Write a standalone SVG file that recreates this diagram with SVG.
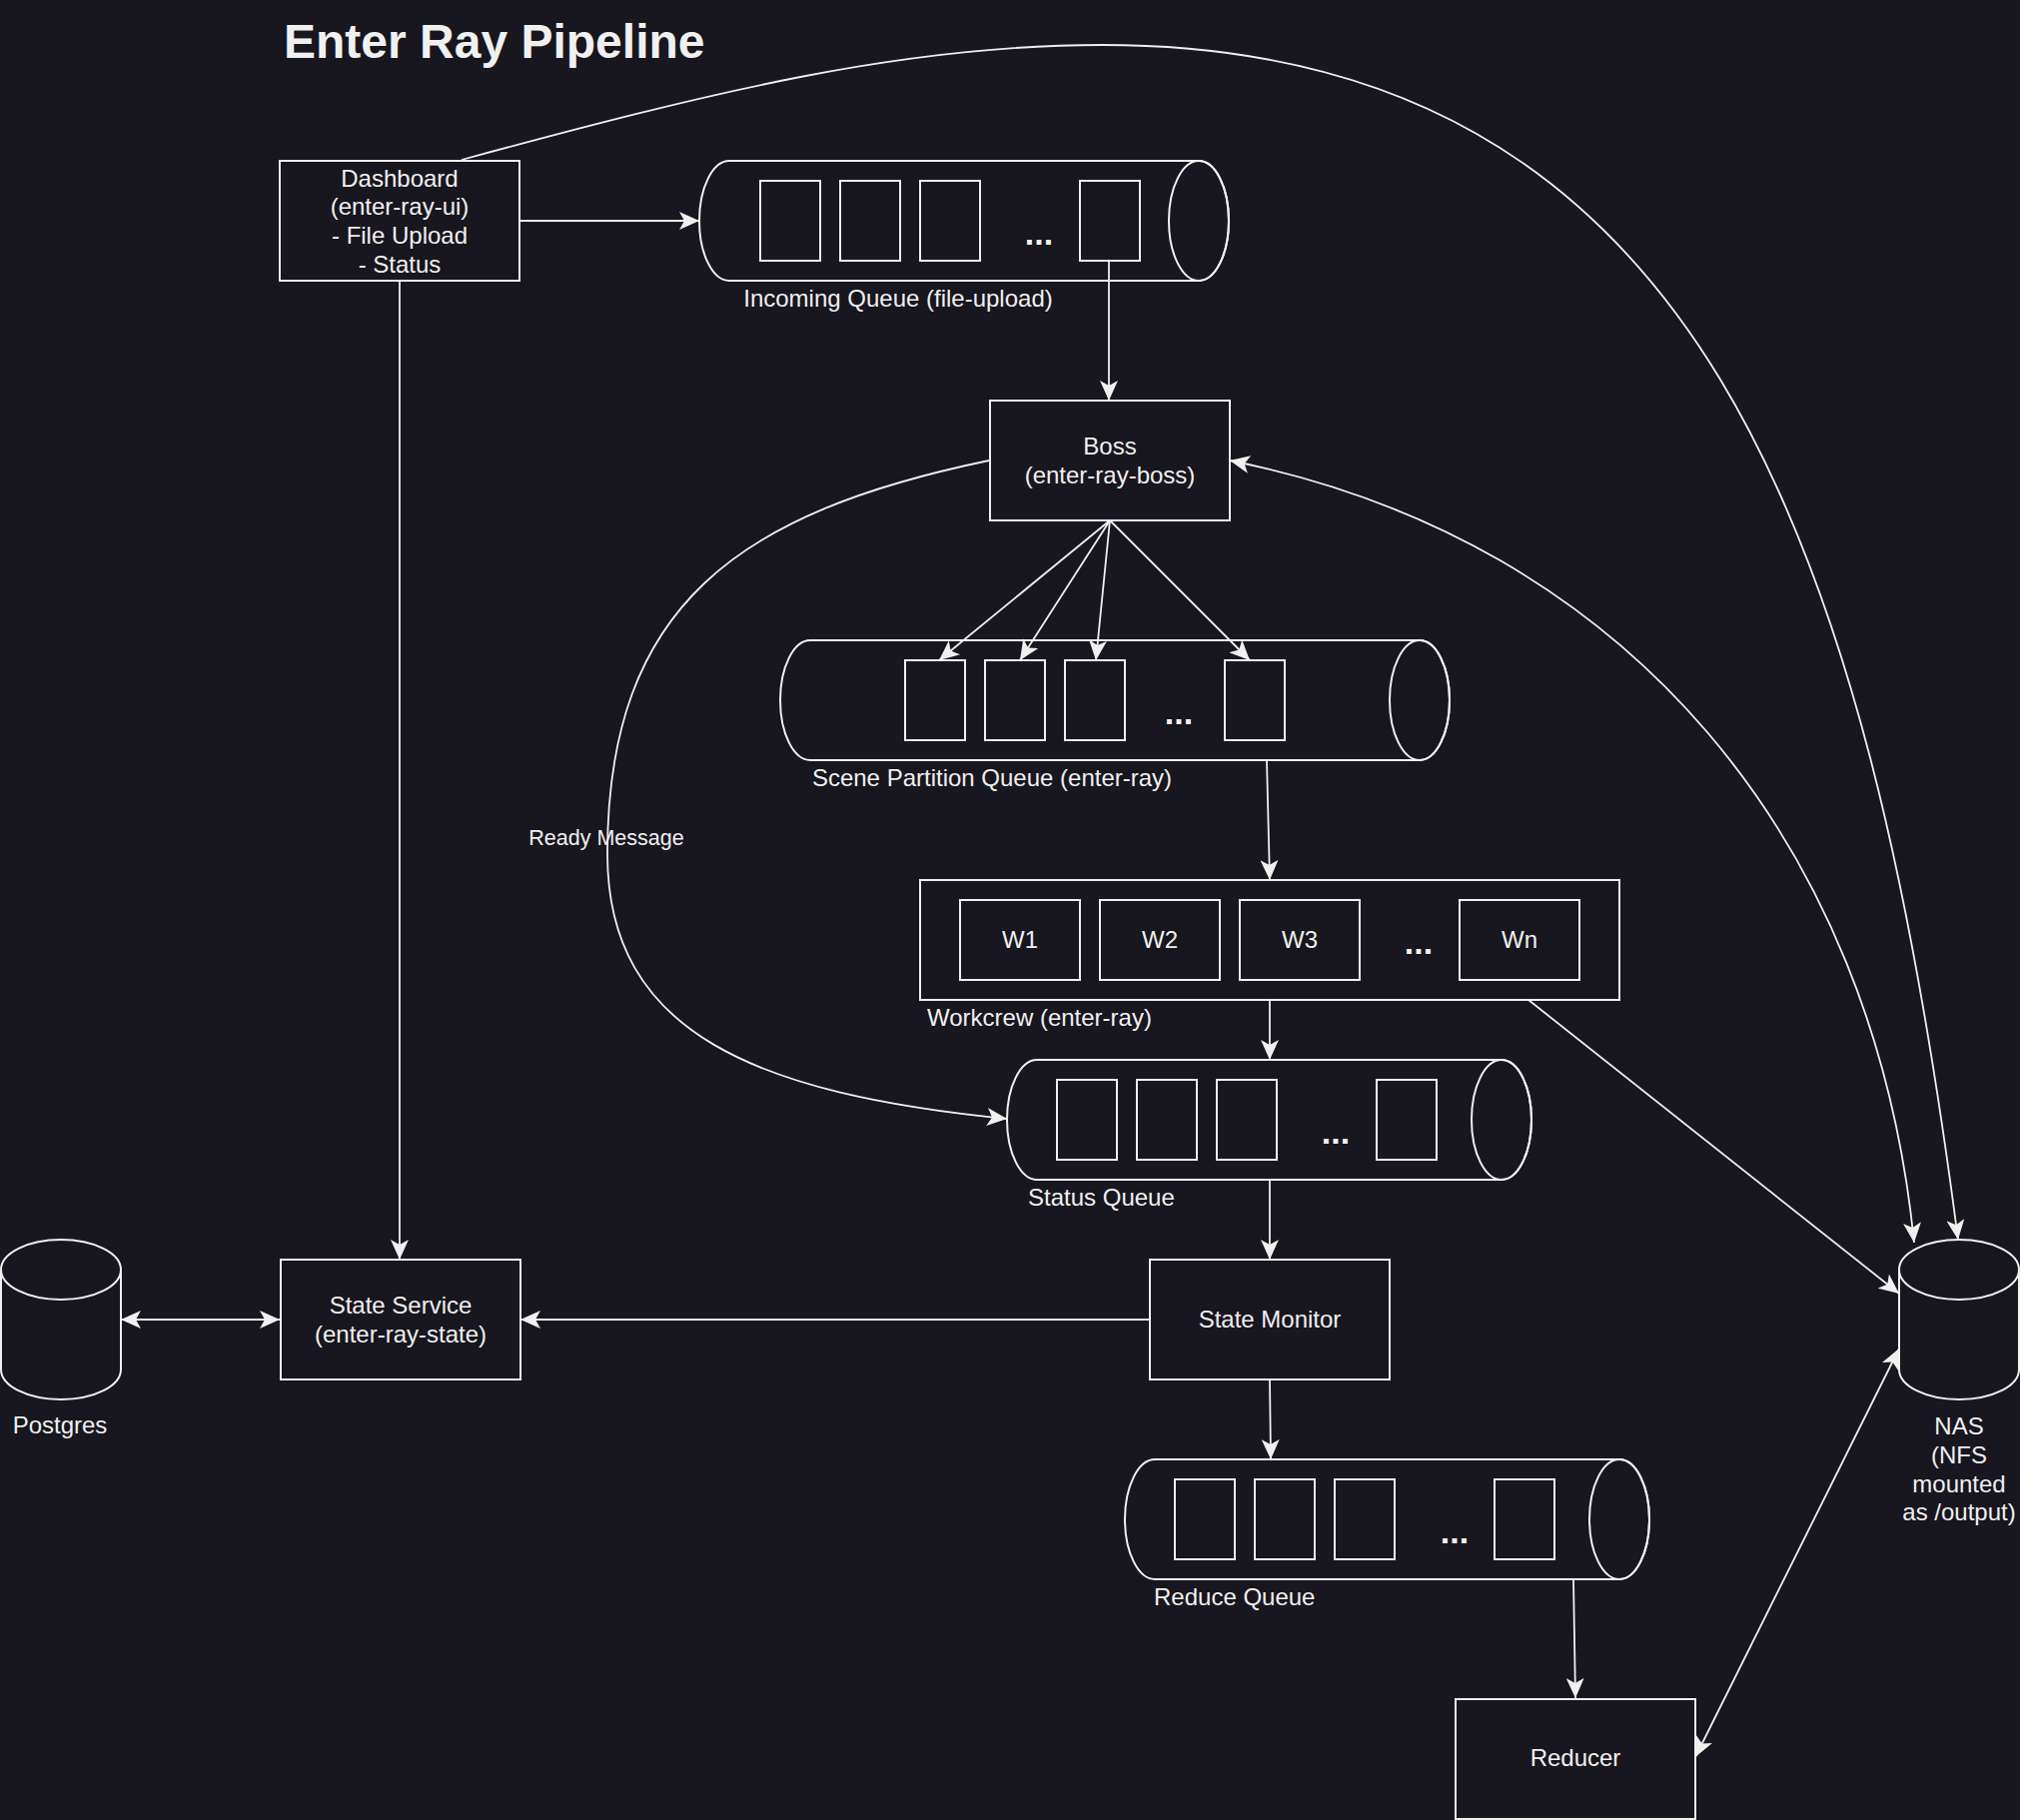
<svg xmlns="http://www.w3.org/2000/svg" width="2022" height="1822" viewBox="0 0 2022 1822">
<style>
.bg{fill:#18161e}
.s{fill:#18161e;stroke:#f0f0f0;stroke-width:2}
.n{fill:none;stroke:#f0f0f0;stroke-width:2}
.e{fill:none;stroke:#f0f0f0;stroke-width:1.8}
.t{font-family:"Liberation Sans",Arial,sans-serif;font-size:24px;fill:#f0f0f0}
.c{text-anchor:middle}
.d{font-family:"Liberation Sans",Arial,sans-serif;font-size:34px;font-weight:bold;fill:#f0f0f0;text-anchor:middle}
.title{font-family:"Liberation Sans",Arial,sans-serif;font-size:48px;font-weight:bold;fill:#f0f0f0}
.lbl{font-family:"Liberation Sans",Arial,sans-serif;font-size:21.5px;fill:#f0f0f0;text-anchor:middle}
</style>
<defs>
<marker id="a" viewBox="0 0 20 18" refX="20" refY="9" markerWidth="20" markerHeight="18" orient="auto-start-reverse" markerUnits="userSpaceOnUse">
<path d="M0,0 L20,9 L0,18 L5,9 Z" fill="#f0f0f0"/>
</marker>
</defs>
<rect class="bg" x="0" y="0" width="2022" height="1822"/>
<text class="title" x="284" y="58">Enter Ray Pipeline</text>

<g id="dashboard">
<rect class="s" x="280" y="161" width="240" height="120"/>
<text class="t c" x="400" y="186.5">Dashboard</text>
<text class="t c" x="400" y="215.2">(enter-ray-ui)</text>
<text class="t c" x="400" y="243.9">- File Upload</text>
<text class="t c" x="400" y="272.6">- Status</text>
</g>

<g id="incoming-queue">
<path class="s" d="M730,161 L1200,161 A30,60 0 0 1 1200,281 L730,281 A30,60 0 0 1 730,161 Z"/>
<ellipse class="n" cx="1200" cy="221" rx="30" ry="60"/>
<rect class="s" x="761" y="181" width="60" height="80"/>
<rect class="s" x="841" y="181" width="60" height="80"/>
<rect class="s" x="921" y="181" width="60" height="80"/>
<rect class="s" x="1081" y="181" width="60" height="80"/>
<text class="d" x="1040" y="245">...</text>
<text class="t c" x="899" y="307">Incoming Queue (file-upload)</text>
</g>

<g id="boss">
<rect class="s" x="991" y="401" width="240" height="120"/>
<text class="t c" x="1111" y="455">Boss</text>
<text class="t c" x="1111" y="484">(enter-ray-boss)</text>
</g>

<g id="scene-partition-queue">
<path class="s" d="M811,641 L1421,641 A30,60 0 0 1 1421,761 L811,761 A30,60 0 0 1 811,641 Z"/>
<ellipse class="n" cx="1421" cy="701" rx="30" ry="60"/>
<rect class="s" x="906" y="661" width="60" height="80"/>
<rect class="s" x="986" y="661" width="60" height="80"/>
<rect class="s" x="1066" y="661" width="60" height="80"/>
<rect class="s" x="1226" y="661" width="60" height="80"/>
<text class="d" x="1180" y="725">...</text>
<text class="t c" x="993" y="787">Scene Partition Queue (enter-ray)</text>
</g>

<g id="workcrew">
<rect class="s" x="921" y="881" width="700" height="120"/>
<rect class="s" x="961" y="901" width="120" height="80"/>
<rect class="s" x="1101" y="901" width="120" height="80"/>
<rect class="s" x="1241" y="901" width="120" height="80"/>
<rect class="s" x="1461" y="901" width="120" height="80"/>
<text class="t c" x="1021" y="949">W1</text>
<text class="t c" x="1161" y="949">W2</text>
<text class="t c" x="1301" y="949">W3</text>
<text class="t c" x="1521" y="949">Wn</text>
<text class="d" x="1420" y="955">...</text>
<text class="t" x="928" y="1027">Workcrew (enter-ray)</text>
</g>

<g id="status-queue">
<path class="s" d="M1038,1061 L1503,1061 A30,60 0 0 1 1503,1181 L1038,1181 A30,60 0 0 1 1038,1061 Z"/>
<ellipse class="n" cx="1503" cy="1121" rx="30" ry="60"/>
<rect class="s" x="1058" y="1081" width="60" height="80"/>
<rect class="s" x="1138" y="1081" width="60" height="80"/>
<rect class="s" x="1218" y="1081" width="60" height="80"/>
<rect class="s" x="1378" y="1081" width="60" height="80"/>
<text class="d" x="1337" y="1145">...</text>
<text class="t" x="1029" y="1207">Status Queue</text>
</g>

<g id="state-monitor">
<rect class="s" x="1151" y="1261" width="240" height="120"/>
<text class="t c" x="1271" y="1329">State Monitor</text>
</g>

<g id="state-service">
<rect class="s" x="281" y="1261" width="240" height="120"/>
<text class="t c" x="401" y="1315">State Service</text>
<text class="t c" x="401" y="1344">(enter-ray-state)</text>
</g>

<g id="postgres">
<path class="s" d="M1,1271 A60,30 0 0 1 121,1271 L121,1371 A60,30 0 0 1 1,1371 Z"/>
<path class="n" d="M1,1271 A60,30 0 0 0 121,1271"/>
<text class="t c" x="60" y="1435">Postgres</text>
</g>

<g id="nas">
<path class="s" d="M1901,1271 A60,30 0 0 1 2021,1271 L2021,1371 A60,30 0 0 1 1901,1371 Z"/>
<path class="n" d="M1901,1271 A60,30 0 0 0 2021,1271"/>
<text class="t c" x="1961" y="1436">NAS</text>
<text class="t c" x="1961" y="1465">(NFS</text>
<text class="t c" x="1961" y="1494">mounted</text>
<text class="t c" x="1961" y="1522">as /output)</text>
</g>

<g id="reduce-queue">
<path class="s" d="M1156,1461 L1621,1461 A30,60 0 0 1 1621,1581 L1156,1581 A30,60 0 0 1 1156,1461 Z"/>
<ellipse class="n" cx="1621" cy="1521" rx="30" ry="60"/>
<rect class="s" x="1176" y="1481" width="60" height="80"/>
<rect class="s" x="1256" y="1481" width="60" height="80"/>
<rect class="s" x="1336" y="1481" width="60" height="80"/>
<rect class="s" x="1496" y="1481" width="60" height="80"/>
<text class="d" x="1456" y="1545">...</text>
<text class="t" x="1155" y="1607">Reduce Queue</text>
</g>

<g id="reducer">
<rect class="s" x="1457" y="1701" width="240" height="120"/>
<text class="t c" x="1577" y="1768">Reducer</text>
</g>

<g id="connectors">
<path class="e" d="M521,221 L700,221" marker-end="url(#a)"/>
<path class="e" d="M1110,261 L1110,401" marker-end="url(#a)"/>
<path class="e" d="M1111,521 L940,661" marker-end="url(#a)"/>
<path class="e" d="M1111,521 L1021,661" marker-end="url(#a)"/>
<path class="e" d="M1111,521 L1097,661" marker-end="url(#a)"/>
<path class="e" d="M1111,521 L1251,661" marker-end="url(#a)"/>
<path class="e" d="M1268,761 L1271,881" marker-end="url(#a)"/>
<path class="e" d="M1271,1001 L1271,1061" marker-end="url(#a)"/>
<path class="e" d="M1271,1181 L1271,1261" marker-end="url(#a)"/>
<path class="e" d="M1150,1321 L521,1321" marker-end="url(#a)"/>
<path class="e" d="M400,281 L400,1261" marker-end="url(#a)"/>
<path class="e" d="M121,1321 L280,1321" marker-start="url(#a)" marker-end="url(#a)"/>
<path class="e" d="M1271,1381 L1272,1461" marker-end="url(#a)"/>
<path class="e" d="M1575,1581 L1577,1700" marker-end="url(#a)"/>
<path class="e" d="M1697,1759 L1901,1350" marker-start="url(#a)" marker-end="url(#a)"/>
<path class="e" d="M1530,1001 L1901,1295" marker-end="url(#a)"/>
<path class="e" d="M462,160 C712,92 903,45 1103,45 C1703,45 1869,541 1960,1241" marker-end="url(#a)"/>
<path class="e" d="M1231,461 C1631,541 1876,844 1916,1244" marker-start="url(#a)" marker-end="url(#a)"/>
<path class="e" d="M990,461 C740,513 608,605 608,855 C608,1035 758,1095 1008,1120" marker-end="url(#a)"/>
<text class="lbl" x="607" y="846">Ready Message</text>
</g>
</svg>
